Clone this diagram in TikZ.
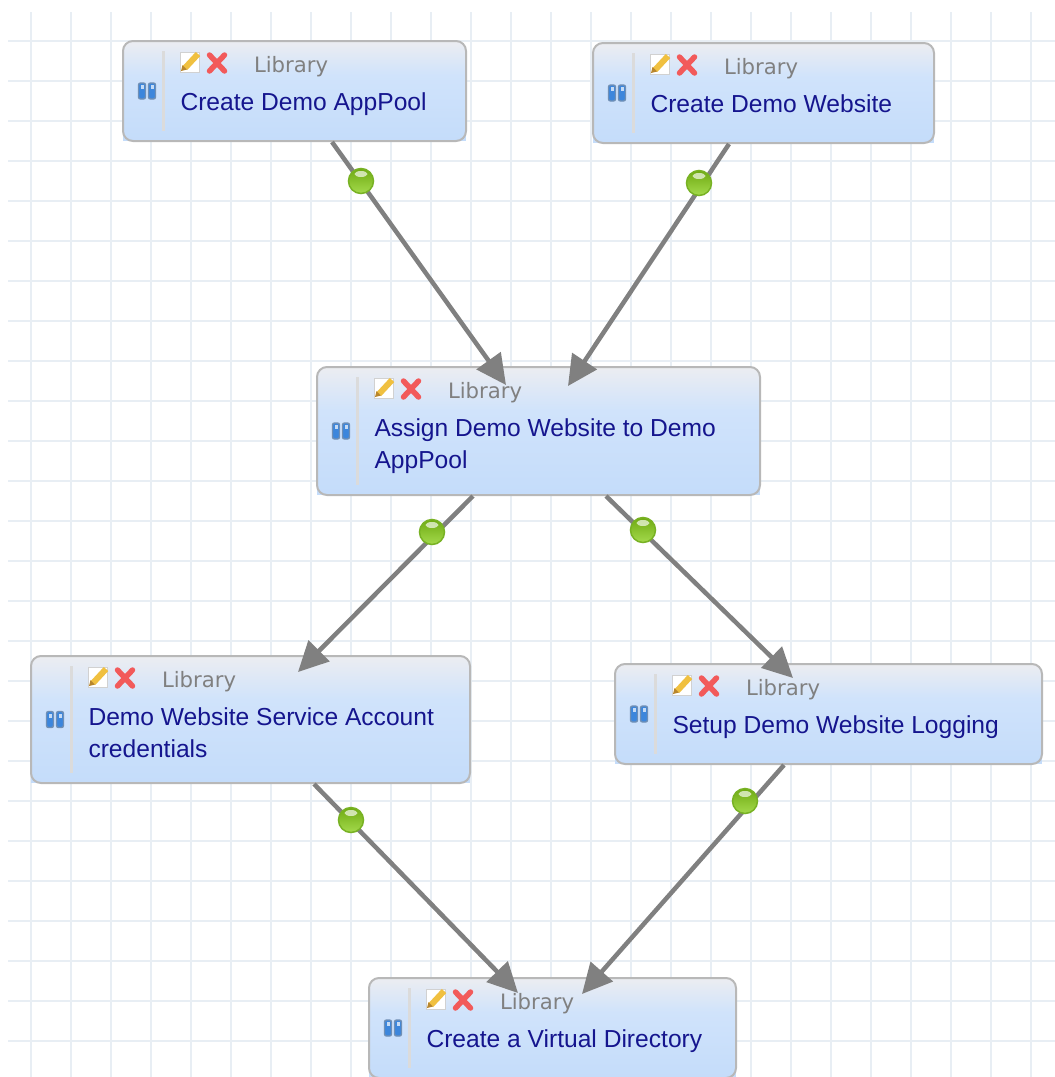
\documentclass[tikz,border=0pt]{standalone}
\usepackage{fontspec}
\setmainfont{Liberation Sans}
\newfontfamily\libfont{DejaVu Sans}
\usetikzlibrary{arrows.meta}
\definecolor{gridc}{HTML}{E8EEF4}
\definecolor{wfa}{HTML}{C4DCFA}
\definecolor{wfm}{HTML}{D0E3FB}
\definecolor{wft}{HTML}{ECEDF1}
\pgfdeclareverticalshading{wfshade}{100bp}{color(0bp)=(wfa); color(25bp)=(wfa); color(58bp)=(wfm); color(75bp)=(wft); color(100bp)=(wft)}
\tikzset{
  wfbox/.style={draw=black!28, line width=2pt, rounded corners=10pt, shading=wfshade, anchor=north west, inner sep=0pt, outer sep=0pt},
  wftitle/.style={anchor=north west, inner sep=0pt, outer sep=0pt, align=left, text=wftitlec, font=\fontsize{24.6}{32}\selectfont},
  wflib/.style={anchor=base west, inner sep=0pt, outer sep=0pt, text=black!50, font=\libfont\fontsize{21.2}{24}\selectfont},
  conn/.style={draw=black!50, line width=4.5pt, -{Triangle[length=30pt,width=29pt]}, shorten >=0pt},
  okdot/.style={circle, minimum size=25pt, inner sep=0pt, draw=dotrim, line width=1.5pt, top color=dottop, bottom color=dotbot},
  gridline/.style={draw=gridc, line width=2pt}
}
\definecolor{wftitlec}{HTML}{15158E}
\definecolor{dotrim}{HTML}{78B224}
\definecolor{dottop}{HTML}{6FAA12}
\definecolor{dotbot}{HTML}{A4DA4C}
% name, x1, y1, x2, y2, title
\newcommand{\wfnode}[6]{%
  \fill[wfa] (#2,#5-12) rectangle (#4,#5);
  \node[wfbox, minimum width=#4pt-#2pt, minimum height=#5pt-#3pt] (#1) at (#2,#3) {};
  \draw[draw=black!14, line width=3pt] (#2+40.5,#3+10) -- (#2+40.5,#5-10);
  % pills
  \begin{scope}[shift={(#2+24,{#3+0.5*#5-0.5*#3})}]
    \foreach \dx in {-5,5}{
      \filldraw[draw=wfpill, fill=wfpillin, line width=1.4pt, rounded corners=2pt] (\dx-3.5,-8) rectangle (\dx+3.5,8);
      \fill[white!70!wfpillin] (\dx-1.5,-6) rectangle (\dx+1.5,-2);
    }
  \end{scope}
  % pencil
  \begin{scope}[shift={(#2+67,#3+21)}]
    \filldraw[draw=black!18, fill=white, line width=1pt] (-10,-10) rectangle (9,10);
    \draw[draw=pencilc, line width=6pt] (-5,6) -- (8,-8);
    \fill[pencild] (-9,9) -- (-7.5,3) -- (-3,7.5) -- cycle;
  \end{scope}
  % cross
  \begin{scope}[shift={(#2+94,#3+22)}]
    \draw[draw=crossc, line width=5.5pt, line cap=round] (-7.5,-8) -- (7.5,8) (-7.5,8) -- (7.5,-8);
  \end{scope}
  \node[wflib] (#1-lib) at (#2+131,#3+31) {Library};
  \node[wftitle] (#1-title) at (#2+57.5,#3+52) {#6};
}
\definecolor{wfpill}{HTML}{6F8FB5}
\definecolor{wfpillin}{HTML}{3C86DC}
\definecolor{pencilc}{HTML}{F0C040}
\definecolor{pencild}{HTML}{B8862C}
\definecolor{crossc}{HTML}{F25A5A}
\begin{document}
\begin{tikzpicture}[x=1pt,y=-1pt]
\useasboundingbox (0,0) rectangle (1055,1077);
\clip (0,0) rectangle (1055,1077);
\fill[white] (0,0) rectangle (1055,1077);
\foreach \gx in {31,71,...,1031} \draw[gridline] (\gx,12) -- (\gx,1077);
\foreach \gy in {41,81,...,1041} \draw[gridline] (8,\gy) -- (1055,\gy);

\wfnode{a}{123}{41}{466}{141}{Create Demo AppPool}
\wfnode{b}{593}{43}{934}{143}{Create Demo Website}
\wfnode{c}{317}{367}{760}{495}{Assign Demo Website to Demo\\AppPool}
\wfnode{d}{31}{656}{470}{783}{Demo Website Service Account\\credentials}
\wfnode{e}{615}{664}{1042}{764}{Setup Demo Website Logging}
\wfnode{f}{369}{978}{736}{1078}{Create a Virtual Directory}

\draw[conn] ([shift={(209,1)}]a.south west) -- ([shift={(189,18)}]c.north west);
\draw[conn] ([shift={(136,1)}]b.south west) -- ([shift={(251,19)}]c.north west);
\draw[conn] ([shift={(156,1)}]c.south west) -- ([shift={(267,16)}]d.north west);
\draw[conn] ([shift={(289,1)}]c.south west) -- ([shift={(178,14)}]e.north west);
\draw[conn] ([shift={(283,1)}]d.south west) -- ([shift={(149,15)}]f.north west);
\draw[conn] ([shift={(169,1)}]e.south west) -- ([shift={(213,16)}]f.north west);

\foreach \n/\px/\py in {ok1/361/181,ok2/699/183,ok3/432/532,ok4/643/530,ok5/351/820,ok6/745/801}{
  \node[okdot] (\n) at (\px,\py) {};
  \fill[white, opacity=.65] (\px,\py-7) ellipse (6.5pt and 3pt);
}
\end{tikzpicture}
\end{document}
